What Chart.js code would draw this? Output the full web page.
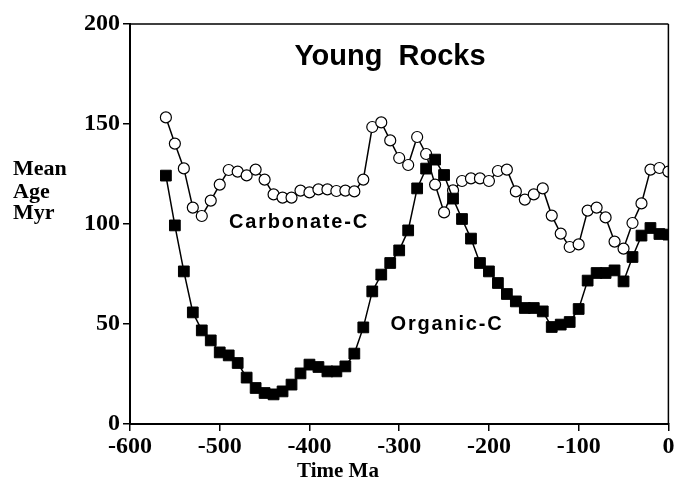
<!DOCTYPE html>
<html>
<head>
<meta charset="utf-8">
<script src="https://cdn.jsdelivr.net/npm/chart.js@4"></script>
<style>
html,body{margin:0;padding:0;background:#fff;}
#c{display:block;}
</style>
</head>
<body>
<canvas id="c" width="677" height="501"></canvas>
<script>
const timeMa = [-560,-550,-540,-530,-520,-510,-500,-490,-480,-470,-460,-450,-440,-430,-420,-410,-400,-390,-380,-370,-360,-350,-340,-330,-320,-310,-300,-290,-280,-270,-260,-250,-240,-230,-220,-210,-200,-190,-180,-170,-160,-150,-140,-130,-120,-110,-100,-90,-80,-70,-60,-50,-40,-30,-20,-10,0];
const carbonateC = [153.3,140.2,127.8,108.2,104,111.7,119.7,127,126.2,124.3,127.2,122.2,114.8,113.2,113.2,116.7,115.8,117.3,117.3,116.5,116.7,116.3,122.2,148.5,150.8,141.8,133,129.5,143.5,135,119.7,105.8,116.8,121.5,122.8,122.8,121.5,126.5,127.2,116.3,112.2,114.8,117.8,104.2,95.2,88.5,89.8,106.7,108.2,103.3,91.2,87.7,100.5,110.3,127.2,128,126.2];
const organicC = [124.2,99.3,76.3,55.8,46.8,41.8,35.8,34.3,30.5,23.2,18,15.5,14.8,16.3,19.7,25.3,29.7,28.5,26.3,26.3,28.8,35.2,48.3,66.3,74.7,80.5,86.8,96.8,117.8,127.7,132.2,124.5,112.7,102.5,92.7,80.5,76.3,70.5,65,61.3,58,58,56.3,48.5,49.7,51,57.5,71.7,75.5,75.5,76.8,71.3,83.5,94.2,98,95,94.7];
const chartTitle = 'Young  Rocks';
const seriesNames = ['Organic-C','Carbonate-C'];
const yTitleLines = ['Mean','Age','Myr'];
const xTitle = 'Time Ma';

const toPts = (vals) => timeMa.map((t, i) => ({x: t, y: vals[i]}));

const textPlugin = {
  id: 'textPlugin',
  afterDraw(chart) {
    const ctx = chart.ctx;
    const a = chart.chartArea;
    ctx.save();
    // top and right frame
    ctx.strokeStyle = '#000';
    ctx.lineWidth = 1.5;
    ctx.beginPath();
    ctx.moveTo(a.left, a.top);
    ctx.lineTo(a.right, a.top);
    ctx.moveTo(a.right, a.top);
    ctx.lineTo(a.right, a.bottom);
    ctx.stroke();
    ctx.fillStyle = '#000';
    // title
    ctx.font = 'bold 29px "Liberation Sans", sans-serif';
    ctx.textAlign = 'center';
    ctx.textBaseline = 'middle';
    ctx.fillText(chartTitle, 390, 57);
    // series labels
    ctx.font = 'bold 20px "Liberation Sans", sans-serif';
    try { ctx.letterSpacing = '1.8px'; } catch(e) {}
    ctx.fillText(seriesNames[1], 299, 222);
    ctx.fillText(seriesNames[0], 447, 324);
    try { ctx.letterSpacing = '0px'; } catch(e) {}
    // y title
    ctx.font = 'bold 22px "Liberation Serif", serif';
    ctx.textAlign = 'left';
    ctx.fillText(yTitleLines[0], 13, 169);
    ctx.fillText(yTitleLines[1], 13, 192);
    ctx.fillText(yTitleLines[2], 13, 213);
    // x title
    ctx.textAlign = 'center';
    ctx.font = 'bold 21px "Liberation Serif", serif';
    ctx.fillText(xTitle, 338, 472);
    ctx.restore();
  }
};

new Chart(document.getElementById('c'), {
  type: 'line',
  data: {
    datasets: [
      {
        label: seriesNames[0],
        data: toPts(organicC),
        borderColor: '#000',
        borderWidth: 1.5,
        pointStyle: 'rect',
        pointRadius: 7.6,
        pointBackgroundColor: '#000',
        pointBorderColor: '#000',
        pointBorderWidth: 1,
        tension: 0
      },
      {
        label: seriesNames[1],
        data: toPts(carbonateC),
        borderColor: '#000',
        borderWidth: 1.5,
        pointStyle: 'circle',
        pointRadius: 5.5,
        pointBackgroundColor: '#fff',
        pointBorderColor: '#000',
        pointBorderWidth: 1.2,
        tension: 0
      }
    ]
  },
  options: {
    responsive: false,
    animation: false,
    layout: { padding: { top: 24, right: 5, left: 0, bottom: 0 } },
    plugins: { legend: { display: false }, title: { display: false }, tooltip: { enabled: false } },
    scales: {
      x: {
        type: 'linear',
        min: -600, max: 0,
        afterFit: (s) => { s.height = 77; },
        ticks: { stepSize: 100, color: '#000', padding: 1, font: { family: '"Liberation Serif", serif', weight: 'bold', size: 24 } },
        grid: { drawOnChartArea: false, drawTicks: true, tickLength: 7, color: '#000', lineWidth: 1.5 },
        border: { display: true, color: '#000', width: 2 }
      },
      y: {
        type: 'linear',
        min: 0, max: 200,
        afterFit: (s) => { s.width = 130; },
        ticks: { stepSize: 50, color: '#000', padding: 3, font: { family: '"Liberation Serif", serif', weight: 'bold', size: 24 } },
        grid: { drawOnChartArea: false, drawTicks: true, tickLength: 7, color: '#000', lineWidth: 1.5 },
        border: { display: true, color: '#000', width: 2 }
      }
    }
  },
  plugins: [textPlugin]
});
</script>
</body>
</html>
